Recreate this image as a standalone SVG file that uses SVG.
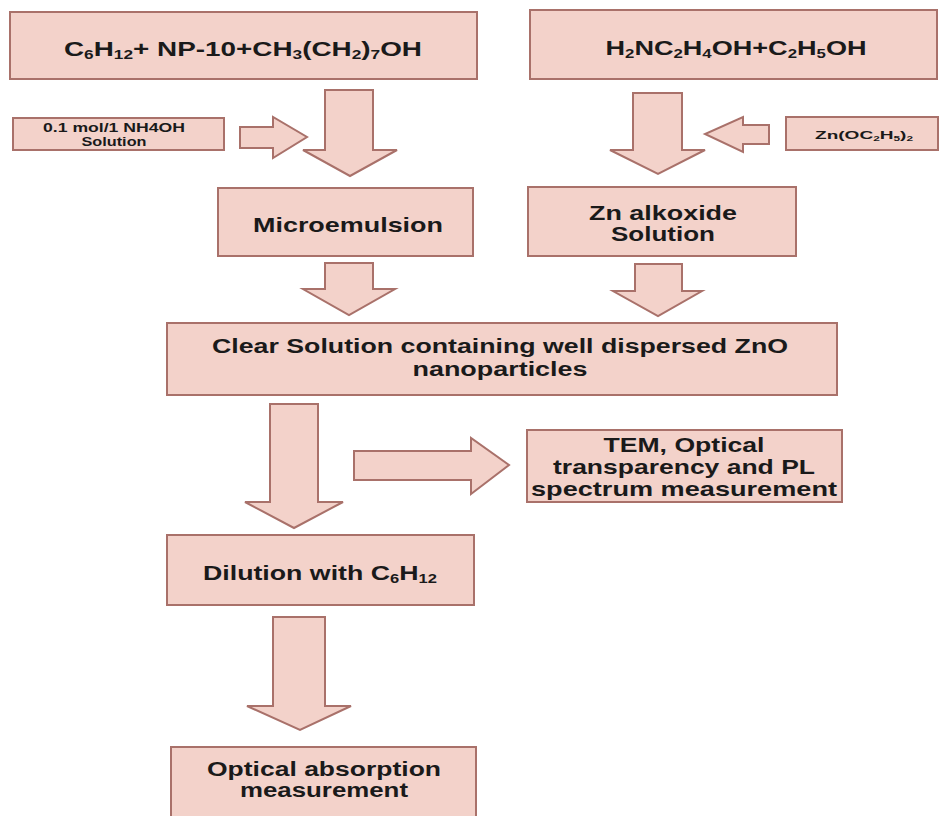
<svg xmlns="http://www.w3.org/2000/svg" width="940" height="816" viewBox="0 0 940 816">
  <style>
    .box { fill: #f3d2ca; stroke: #a9716a; stroke-width: 2; }
    .arrow { fill: #f3d2ca; stroke: #a9716a; stroke-width: 2; stroke-linejoin: miter; }
    text { font-family: "Liberation Sans", Arial, sans-serif; font-weight: bold; fill: #1a1a1a; text-anchor: middle; }
    .big { font-size: 21px; }
    .mid { font-size: 20px; }
    .small { font-size: 12.5px; }
    .sub { font-size: 0.62em; }
  </style>
  <rect x="0" y="0" width="940" height="816" fill="#ffffff"/>

  <!-- flow arrows -->
  <g id="connectors">
    <polygon class="arrow" points="240,127 273,127 273,117 307,137 273,158 273,148 240,148"/>
    <polygon class="arrow" points="325,90 373,90 373,150 397,150 350,176 303,150 325,150"/>
    <polygon class="arrow" points="633,93 682,93 682,150 705,150 658,174 610,150 633,150"/>
    <polygon class="arrow" points="769,125 743,125 743,117 705,134 743,152 743,144 769,144"/>
    <polygon class="arrow" points="325,263 373,263 373,289 395,289 349,315 303,289 325,289"/>
    <polygon class="arrow" points="635,264 682,264 682,291 702,291 658,316 613,291 635,291"/>
    <polygon class="arrow" points="270,404 318,404 318,502 343,502 294,528 245,502 270,502"/>
    <polygon class="arrow" points="354,451 471,451 471,438 509,465 471,494 471,480 354,480"/>
    <polygon class="arrow" points="273,617 325,617 325,706 351,706 300,730 247,706 273,706"/>
  </g>

  <g id="organic-phase">
    <rect class="box" x="10" y="12" width="467" height="67"/>
    <text class="big" x="243" y="56" textLength="358" lengthAdjust="spacingAndGlyphs">C<tspan class="sub" dy="3">6</tspan><tspan dy="-3">H</tspan><tspan class="sub" dy="3">12</tspan><tspan dy="-3">+ NP-10+CH</tspan><tspan class="sub" dy="3">3</tspan><tspan dy="-3">(CH</tspan><tspan class="sub" dy="3">2</tspan><tspan dy="-3">)</tspan><tspan class="sub" dy="3">7</tspan><tspan dy="-3">OH</tspan></text>
  </g>

  <g id="alcohol-phase">
    <rect class="box" x="530" y="10" width="407" height="69"/>
    <text class="big" x="736" y="55" textLength="261" lengthAdjust="spacingAndGlyphs">H<tspan class="sub" dy="3">2</tspan><tspan dy="-3">NC</tspan><tspan class="sub" dy="3">2</tspan><tspan dy="-3">H</tspan><tspan class="sub" dy="3">4</tspan><tspan dy="-3">OH+C</tspan><tspan class="sub" dy="3">2</tspan><tspan dy="-3">H</tspan><tspan class="sub" dy="3">5</tspan><tspan dy="-3">OH</tspan></text>
  </g>

  <g id="ammonia">
    <rect class="box" x="13" y="118" width="211" height="32"/>
    <text class="small" x="114" y="132" textLength="142" lengthAdjust="spacingAndGlyphs">0.1 mol/1 NH4OH</text>
    <text class="small" x="114" y="146" textLength="65" lengthAdjust="spacingAndGlyphs">Solution</text>
  </g>

  <g id="zinc-ethoxide">
    <rect class="box" x="786" y="117" width="152" height="33"/>
    <text class="small" x="864" y="139" style="font-size:11px" textLength="98" lengthAdjust="spacingAndGlyphs">Zn(OC<tspan class="sub" dy="2">2</tspan><tspan dy="-2">H</tspan><tspan class="sub" dy="2">5</tspan><tspan dy="-2">)</tspan><tspan class="sub" dy="2">2</tspan></text>
  </g>

  <g id="microemulsion">
    <rect class="box" x="218" y="188" width="255" height="68"/>
    <text class="big" x="348" y="232" textLength="190" lengthAdjust="spacingAndGlyphs">Microemulsion</text>
  </g>

  <g id="zn-alkoxide">
    <rect class="box" x="528" y="187" width="268" height="69"/>
    <text class="mid" x="663" y="220" textLength="148" lengthAdjust="spacingAndGlyphs">Zn alkoxide</text>
    <text class="mid" x="663" y="241" textLength="104" lengthAdjust="spacingAndGlyphs">Solution</text>
  </g>

  <g id="clear-solution">
    <rect class="box" x="167" y="323" width="670" height="72"/>
    <text class="mid" x="500" y="353" textLength="576" lengthAdjust="spacingAndGlyphs">Clear Solution containing well dispersed ZnO</text>
    <text class="mid" x="500" y="376" textLength="175" lengthAdjust="spacingAndGlyphs">nanoparticles</text>
  </g>

  <g id="tem-measurement">
    <rect class="box" x="527" y="430" width="315" height="72"/>
    <text class="big" x="684" y="452" textLength="161" lengthAdjust="spacingAndGlyphs">TEM, Optical</text>
    <text class="big" x="684" y="474" textLength="262" lengthAdjust="spacingAndGlyphs">transparency and PL</text>
    <text class="big" x="684" y="496" textLength="306" lengthAdjust="spacingAndGlyphs">spectrum measurement</text>
  </g>

  <g id="dilution">
    <rect class="box" x="167" y="535" width="307" height="70"/>
    <text class="mid" x="320" y="580" textLength="234" lengthAdjust="spacingAndGlyphs">Dilution with C<tspan class="sub" dy="3">6</tspan><tspan dy="-3">H</tspan><tspan class="sub" dy="3">12</tspan></text>
  </g>

  <g id="optical-absorption">
    <rect class="box" x="171" y="747" width="305" height="85"/>
    <text class="mid" x="324" y="776" textLength="234" lengthAdjust="spacingAndGlyphs">Optical absorption</text>
    <text class="mid" x="324" y="797" textLength="168" lengthAdjust="spacingAndGlyphs">measurement</text>
  </g>
</svg>
